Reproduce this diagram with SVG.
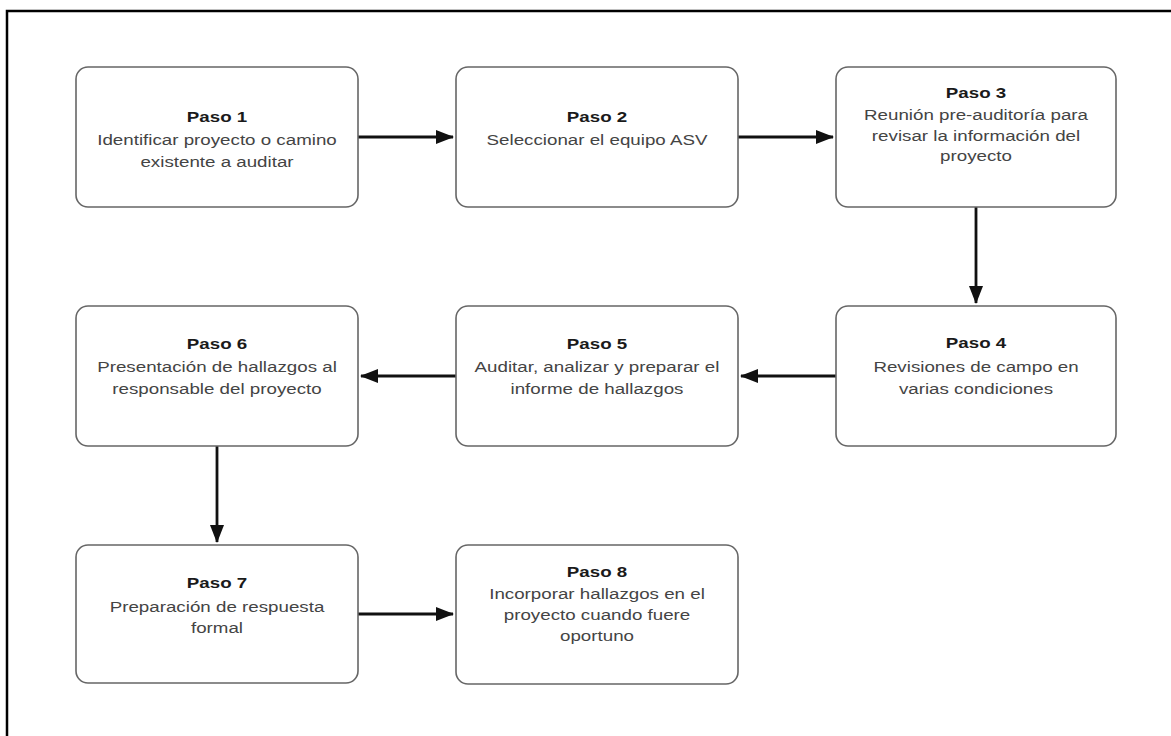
<svg xmlns="http://www.w3.org/2000/svg" width="1171" height="736" viewBox="0 0 1171 736">
<style>
.box{fill:#fff;stroke:#666;stroke-width:1.6}
.t{font-family:"Liberation Sans",Arial,Helvetica,sans-serif;font-size:15px;text-anchor:middle;fill:#444}
.b{font-weight:bold;fill:#1a1a1a}
.c{stroke:#111;stroke-width:2.8;fill:none;marker-end:url(#ah)}
</style>
<defs>
<marker id="ah" viewBox="0 0 18 14" refX="17" refY="7" markerWidth="18" markerHeight="14" markerUnits="userSpaceOnUse" orient="auto">
<path d="M0,0 L18,7 L0,14 Z" fill="#111"/>
</marker>
</defs>
<rect width="1171" height="736" fill="#fff"/>
<path d="M7 736 V11 H1171" fill="none" stroke="#000" stroke-width="2.5"/>

<g id="connectors">
<line class="c" x1="358" y1="137" x2="453" y2="137"/>
<line class="c" x1="738" y1="137" x2="833" y2="137"/>
<line class="c" x1="976" y1="207" x2="976" y2="303"/>
<line class="c" x1="836" y1="376" x2="741" y2="376"/>
<line class="c" x1="456" y1="376" x2="361" y2="376"/>
<line class="c" x1="217" y1="446" x2="217" y2="542"/>
<line class="c" x1="358" y1="614" x2="453" y2="614"/>
</g>

<g id="n1">
<rect class="box" x="76" y="67" width="282" height="140" rx="12"/>
<g transform="translate(217 0) scale(1.25 1)">
<text class="t b" x="0" y="122">Paso 1</text>
<text class="t" x="0" y="145.5">Identificar proyecto o camino</text>
<text class="t" x="0" y="167">existente a auditar</text>
</g>
</g>
<g id="n2">
<rect class="box" x="456" y="67" width="282" height="140" rx="12"/>
<g transform="translate(597 0) scale(1.25 1)">
<text class="t b" x="0" y="122.5">Paso 2</text>
<text class="t" x="0" y="145.5">Seleccionar el equipo ASV</text>
</g>
</g>
<g id="n3">
<rect class="box" x="836" y="67" width="280" height="140" rx="12"/>
<g transform="translate(976 0) scale(1.25 1)">
<text class="t b" x="0" y="98">Paso 3</text>
<text class="t" x="0" y="120">Reunión pre-auditoría para</text>
<text class="t" x="0" y="141">revisar la información del</text>
<text class="t" x="0" y="161.5">proyecto</text>
</g>
</g>
<g id="n4">
<rect class="box" x="836" y="306" width="280" height="140" rx="12"/>
<g transform="translate(976 0) scale(1.25 1)">
<text class="t b" x="0" y="348.5">Paso 4</text>
<text class="t" x="0" y="372.5">Revisiones de campo en</text>
<text class="t" x="0" y="394.5">varias condiciones</text>
</g>
</g>
<g id="n5">
<rect class="box" x="456" y="306" width="282" height="140" rx="12"/>
<g transform="translate(597 0) scale(1.25 1)">
<text class="t b" x="0" y="349.5">Paso 5</text>
<text class="t" x="0" y="372.5">Auditar, analizar y preparar el</text>
<text class="t" x="0" y="394">informe de hallazgos</text>
</g>
</g>
<g id="n6">
<rect class="box" x="76" y="306" width="282" height="140" rx="12"/>
<g transform="translate(217 0) scale(1.25 1)">
<text class="t b" x="0" y="349.5">Paso 6</text>
<text class="t" x="0" y="372.5">Presentación de hallazgos al</text>
<text class="t" x="0" y="394">responsable del proyecto</text>
</g>
</g>
<g id="n7">
<rect class="box" x="76" y="545" width="282" height="138" rx="12"/>
<g transform="translate(217 0) scale(1.25 1)">
<text class="t b" x="0" y="588">Paso 7</text>
<text class="t" x="0" y="612.5">Preparación de respuesta</text>
<text class="t" x="0" y="633.5">formal</text>
</g>
</g>
<g id="n8">
<rect class="box" x="456" y="545" width="282" height="139" rx="12"/>
<g transform="translate(597 0) scale(1.25 1)">
<text class="t b" x="0" y="577.5">Paso 8</text>
<text class="t" x="0" y="599">Incorporar hallazgos en el</text>
<text class="t" x="0" y="620">proyecto cuando fuere</text>
<text class="t" x="0" y="641">oportuno</text>
</g>
</g>
</svg>
